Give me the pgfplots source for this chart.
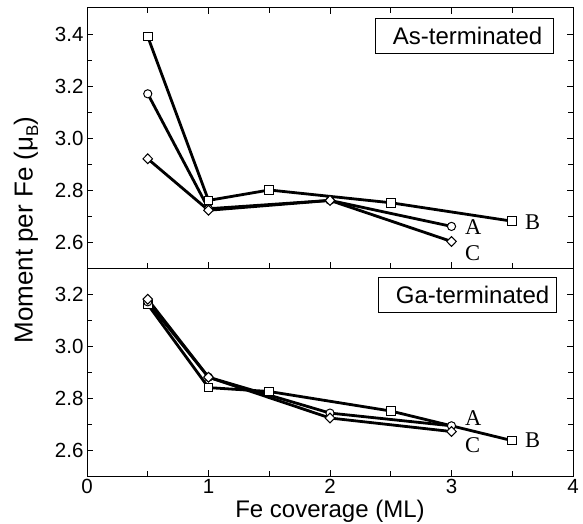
\documentclass[border=0pt]{standalone}
\usepackage{pgfplots}
\pgfplotsset{compat=1.18}
\usetikzlibrary{calc}
\usepackage{fontspec}
\setmainfont{Liberation Sans}
\newfontfamily\serif{Liberation Serif}

\pgfplotsset{
  panel/.style={
    width=486pt, scale only axis,
    xmin=0, xmax=4, xtick={0,1,2,3,4}, minor x tick num=1,
    minor y tick num=1, tick align=inside,
    major tick length=6pt, minor tick length=5pt,
    axis line style={line width=1pt}, every tick/.style={line width=0.8pt,black},
    tick label style={font=\fontsize{20.5}{24}\selectfont},
    /pgf/number format/assume math mode=true,
    yticklabel style={/pgf/number format/.cd,fixed,fixed zerofill,precision=1},
    clip=false,
  },
  sq/.style={black, line width=2.8pt, mark=square*, mark size=4.3pt,
    mark options={fill=white, line width=1pt, solid}},
  ci/.style={black, line width=2.8pt, mark=*, mark size=4.1pt,
    mark options={fill=white, line width=1pt, solid}},
  di/.style={black, line width=2.8pt, mark=diamond*, mark size=4.9pt,
    mark options={fill=white, line width=1pt, solid, xscale=1.3}},
}
\tikzset{
  tag/.style={font=\serif\fontsize{22.5}{23}\selectfont, anchor=base west,
    inner sep=0pt, text height=15pt, text depth=0pt},
  box/.style={draw, line width=0.8pt, anchor=north east, minimum width=178pt,
    minimum height=35pt, inner sep=0pt, font=\fontsize{24}{28}\selectfont},
}

\begin{document}
\begin{tikzpicture}
% bottom panel: Ga-terminated
\begin{axis}[panel, height=208pt, ymin=2.5, ymax=3.3,
  ytick={2.6,2.8,3.0,3.2}, xtick pos=bottom, ytick pos=both]
\addplot[sq] coordinates {(0.5,3.16)(1,2.84)(1.5,2.825)(2.5,2.75)(3.5,2.636)};
\addplot[ci] coordinates {(0.5,3.17)(1,2.88)(2,2.742)(3,2.693)};
\addplot[di] coordinates {(0.5,3.18)(1,2.88)(2,2.723)(3,2.671)};
\node[tag] at (axis cs:3.111,2.693) {A};
\node[tag] at (axis cs:3.605,2.608) {B};
\node[tag] at (axis cs:3.111,2.589) {C};
\node[box] at (rel axis cs:0.967,0.957) {\hspace{10pt}Ga-terminated};
\coordinate (bl) at (rel axis cs:0,0);
\coordinate (br) at (rel axis cs:1,0);
\end{axis}
% top panel: As-terminated
\begin{axis}[panel, at={(0,208pt)}, height=260pt, ymin=2.5, ymax=3.5,
  ytick={2.6,2.8,3.0,3.2,3.4}, xticklabels={}, xtick pos=both, ytick pos=both]
\addplot[sq] coordinates {(0.5,3.39)(1,2.76)(1.5,2.80)(2.5,2.751)(3.5,2.68)};
\addplot[ci] coordinates {(0.5,3.17)(1,2.728)(2,2.76)(3,2.66)};
\addplot[di] coordinates {(0.5,2.92)(1,2.722)(2,2.76)(3,2.602)};
\node[tag] at (axis cs:3.111,2.627) {A};
\node[tag] at (axis cs:3.605,2.647) {B};
\node[tag] at (axis cs:3.111,2.530) {C};
\node[box] at (rel axis cs:0.961,0.9615) {\hspace{6pt}As-terminated};
\coordinate (tl) at (rel axis cs:0,1);
\end{axis}
\node[rotate=90, font=\fontsize{26}{30}\selectfont] at ([xshift=-61pt]bl |- 0,246pt)
  {Moment per Fe (μ\raisebox{-0.4ex}{\fontsize{17}{17}\selectfont B})};
\node[anchor=base, font=\fontsize{24}{28}\selectfont] at ([yshift=-41pt]$(bl)!0.5!(br)$)
  {Fe coverage (ML)};
\pgfresetboundingbox
\path[use as bounding box] ([xshift=-87pt,yshift=8pt]tl) rectangle ([xshift=10pt,yshift=-47pt]br);
\end{tikzpicture}
\end{document}
